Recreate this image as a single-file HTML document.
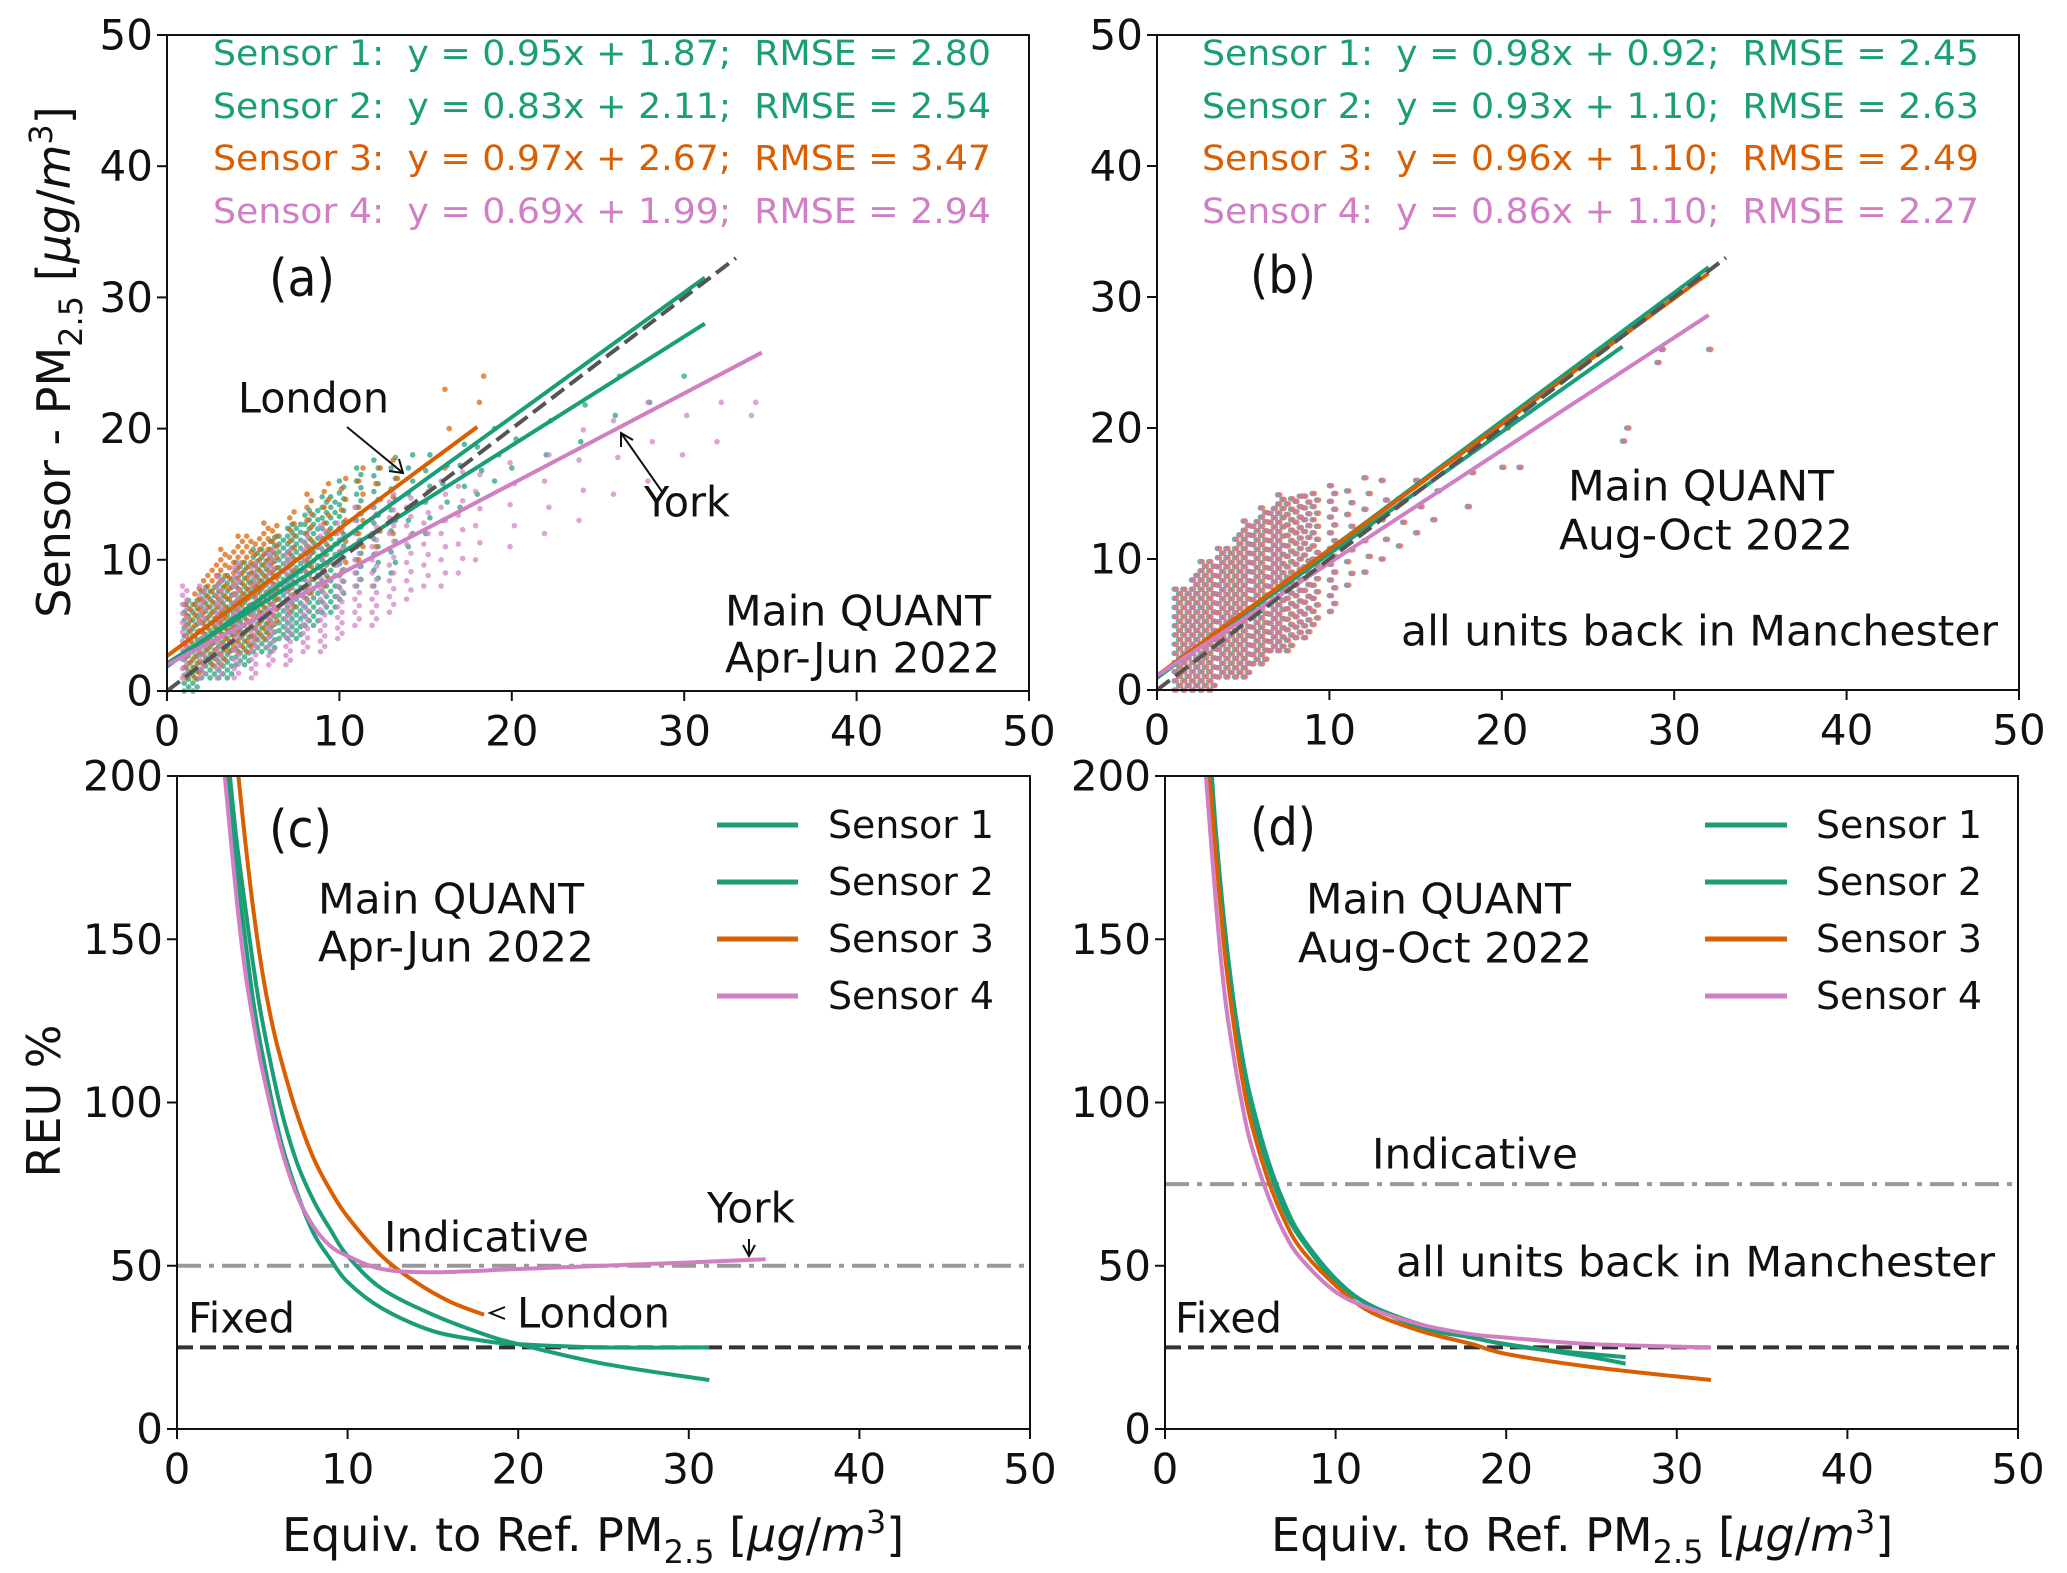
<!DOCTYPE html>
<html><head><meta charset="utf-8"><style>
html,body{margin:0;padding:0;background:#fff;}
svg{display:block;font-family:"DejaVu Sans","Liberation Sans",sans-serif;}
</style></head><body>
<svg id="fig" width="2067" height="1573" viewBox="0 0 2067 1573" xmlns="http://www.w3.org/2000/svg">
<rect width="2067" height="1573" fill="#fff"/>
<g id="marks"></g>
<g id="axes"></g>
<g font-size="35" dominant-baseline="central">
<text x="213" y="54" fill="#1b9e77" textLength="778" lengthAdjust="spacingAndGlyphs" xml:space="preserve">Sensor 1:  y = 0.95x + 1.87;  RMSE = 2.80</text>
<text x="213" y="107" fill="#1b9e77" textLength="778" lengthAdjust="spacingAndGlyphs" xml:space="preserve">Sensor 2:  y = 0.83x + 2.11;  RMSE = 2.54</text>
<text x="213" y="159" fill="#d95f02" textLength="778" lengthAdjust="spacingAndGlyphs" xml:space="preserve">Sensor 3:  y = 0.97x + 2.67;  RMSE = 3.47</text>
<text x="213" y="212" fill="#d07fc4" textLength="778" lengthAdjust="spacingAndGlyphs" xml:space="preserve">Sensor 4:  y = 0.69x + 1.99;  RMSE = 2.94</text>
<text x="1202" y="54" fill="#1b9e77" textLength="777" lengthAdjust="spacingAndGlyphs" xml:space="preserve">Sensor 1:  y = 0.98x + 0.92;  RMSE = 2.45</text>
<text x="1202" y="107" fill="#1b9e77" textLength="777" lengthAdjust="spacingAndGlyphs" xml:space="preserve">Sensor 2:  y = 0.93x + 1.10;  RMSE = 2.63</text>
<text x="1202" y="159" fill="#d95f02" textLength="777" lengthAdjust="spacingAndGlyphs" xml:space="preserve">Sensor 3:  y = 0.96x + 1.10;  RMSE = 2.49</text>
<text x="1202" y="212" fill="#d07fc4" textLength="777" lengthAdjust="spacingAndGlyphs" xml:space="preserve">Sensor 4:  y = 0.86x + 1.10;  RMSE = 2.27</text>
</g>
<g font-size="52" dominant-baseline="central" fill="#111">
<text x="269" y="279" textLength="66" lengthAdjust="spacingAndGlyphs">(a)</text>
<text x="1250" y="276" textLength="66" lengthAdjust="spacingAndGlyphs">(b)</text>
<text x="269" y="830" textLength="63" lengthAdjust="spacingAndGlyphs">(c)</text>
<text x="1250" y="828" textLength="66" lengthAdjust="spacingAndGlyphs">(d)</text>
</g>
<g font-size="42" dominant-baseline="central" fill="#111">
<text x="238" y="398" textLength="151" lengthAdjust="spacingAndGlyphs">London</text>
<text x="644" y="502" textLength="86" lengthAdjust="spacingAndGlyphs">York</text>
<text x="725" y="611" textLength="266" lengthAdjust="spacingAndGlyphs">Main QUANT</text>
<text x="725" y="658" textLength="275" lengthAdjust="spacingAndGlyphs">Apr-Jun 2022</text>
<text x="1568" y="486" textLength="266" lengthAdjust="spacingAndGlyphs">Main QUANT</text>
<text x="1559" y="535" textLength="294" lengthAdjust="spacingAndGlyphs">Aug-Oct 2022</text>
<text x="1401" y="631" textLength="597" lengthAdjust="spacingAndGlyphs">all units back in Manchester</text>
<text x="318" y="899" textLength="266" lengthAdjust="spacingAndGlyphs">Main QUANT</text>
<text x="318" y="947" textLength="276" lengthAdjust="spacingAndGlyphs">Apr-Jun 2022</text>
<text x="384" y="1237" textLength="205" lengthAdjust="spacingAndGlyphs">Indicative</text>
<text x="707" y="1208" textLength="88" lengthAdjust="spacingAndGlyphs">York</text>
<text x="517" y="1313" textLength="153" lengthAdjust="spacingAndGlyphs">London</text>
<text x="188" y="1318" textLength="107" lengthAdjust="spacingAndGlyphs">Fixed</text>
<text x="1306" y="899" textLength="265" lengthAdjust="spacingAndGlyphs">Main QUANT</text>
<text x="1298" y="948" textLength="294" lengthAdjust="spacingAndGlyphs">Aug-Oct 2022</text>
<text x="1372" y="1154" textLength="206" lengthAdjust="spacingAndGlyphs">Indicative</text>
<text x="1396" y="1262" textLength="599" lengthAdjust="spacingAndGlyphs">all units back in Manchester</text>
<text x="1175" y="1318" textLength="107" lengthAdjust="spacingAndGlyphs">Fixed</text>
</g>
<g stroke="#111" stroke-width="2" fill="none">
<line x1="347" y1="427" x2="403" y2="473"/>
<polyline points="389,471 403,473 399,459"/>
<line x1="663" y1="493" x2="621" y2="433"/>
<polyline points="621,447 621,433 633,440"/>
<line x1="749" y1="1239" x2="749" y2="1256"/>
<polyline points="743,1245 749,1256 755,1245"/>
<polyline points="505,1307 490,1313 505,1319"/>
</g>
<g stroke-width="5">
<line x1="717" y1="825" x2="798" y2="825" stroke="#1b9e77"/>
<line x1="717" y1="882" x2="798" y2="882" stroke="#1b9e77"/>
<line x1="717" y1="939" x2="798" y2="939" stroke="#d95f02"/>
<line x1="717" y1="996" x2="798" y2="996" stroke="#d07fc4"/>
<line x1="1705" y1="825" x2="1787" y2="825" stroke="#1b9e77"/>
<line x1="1705" y1="882" x2="1787" y2="882" stroke="#1b9e77"/>
<line x1="1705" y1="939" x2="1787" y2="939" stroke="#d95f02"/>
<line x1="1705" y1="996" x2="1787" y2="996" stroke="#d07fc4"/>
</g>
<g font-size="38" dominant-baseline="central" fill="#111">
<text x="828" y="825" textLength="166" lengthAdjust="spacingAndGlyphs">Sensor 1</text>
<text x="828" y="882" textLength="166" lengthAdjust="spacingAndGlyphs">Sensor 2</text>
<text x="828" y="939" textLength="166" lengthAdjust="spacingAndGlyphs">Sensor 3</text>
<text x="828" y="996" textLength="166" lengthAdjust="spacingAndGlyphs">Sensor 4</text>
<text x="1816" y="825" textLength="166" lengthAdjust="spacingAndGlyphs">Sensor 1</text>
<text x="1816" y="882" textLength="166" lengthAdjust="spacingAndGlyphs">Sensor 2</text>
<text x="1816" y="939" textLength="166" lengthAdjust="spacingAndGlyphs">Sensor 3</text>
<text x="1816" y="996" textLength="166" lengthAdjust="spacingAndGlyphs">Sensor 4</text>
</g>
<g font-size="46" fill="#111">
<text transform="translate(70,362) rotate(-90)" text-anchor="middle">Sensor - PM<tspan font-size="32" dy="12">2.5</tspan><tspan dy="-12"> [</tspan><tspan font-style="italic">μg</tspan><tspan>/</tspan><tspan font-style="italic">m</tspan><tspan font-size="32" dy="-18">3</tspan><tspan dy="18">]</tspan></text>
<text transform="translate(60,1101) rotate(-90)" text-anchor="middle">REU %</text>
<text x="282" y="1551">Equiv. to Ref. PM<tspan font-size="32" dy="12">2.5</tspan><tspan dy="-12"> [</tspan><tspan font-style="italic">μg</tspan><tspan>/</tspan><tspan font-style="italic">m</tspan><tspan font-size="32" dy="-18">3</tspan><tspan dy="18">]</tspan></text>
<text x="1271" y="1551">Equiv. to Ref. PM<tspan font-size="32" dy="12">2.5</tspan><tspan dy="-12"> [</tspan><tspan font-style="italic">μg</tspan><tspan>/</tspan><tspan font-style="italic">m</tspan><tspan font-size="32" dy="-18">3</tspan><tspan dy="18">]</tspan></text>
</g>
</svg>
<script>
// ---------- data ----------
const xTicks = [0,10,20,30,40,50];
const yTicksTop = [0,10,20,30,40,50];
const yTicksBottom = [0,50,100,150,200];
const sensors = ['s1','s2','s3','s4'];
const colors = ['#1b9e77','#1b9e77','#d95f02','#d07fc4'];
const aSlope = [0.95,0.83,0.97,0.69];
const aIntercept = [1.87,2.11,2.67,1.99];
const aXEnd = [31.2,31.2,18,34.5];
const bSlope = [0.98,0.93,0.96,0.86];
const bIntercept = [0.92,1.10,1.10,1.10];
const bXEnd = [32,27,32,32];
// scatter streaks (x, ymin, ymax, spacing)
const aGreenX = [1,1.5,2,2.5,3,3.5,4,4.5,5,5.5,6,6.5,7,7.5,8,8.5,9,9.5,10,11,12,13,14,15,16,17,18,19,20,22,24,26,28,30];
const aGreenMin = [0,0,1,1,1,1,2,2,3,3,3,4,4,4,5,5,6,6,7,8,8,9,11,12,13,14,15,16,17,18,19,21,22,24];
const aGreenMax = [7,7,8,8,9,9,10,10,11,11,12,12,13,13,14,14,15,15,16,17,18,18,18,19,18,19,20,21,21,22,22,24,24,26];
const aGreenGap = [0.3,0.3,0.3,0.3,0.3,0.3,0.3,0.3,0.3,0.3,0.3,0.3,0.3,0.3,0.35,0.35,0.4,0.4,0.45,0.5,0.6,0.8,1,1.2,1.4,1.6,1.8,2,2.2,2.6,2.8,3,3,3];
const aOrangeX = [1,1.5,2,2.5,3,3.5,4,4.5,5,5.5,6,7,8,9,10,11,12,13,16,18];
const aOrangeMin = [1,1,2,2,2,3,3,3,4,4,5,6,7,8,9,10,11,12,17,22];
const aOrangeMax = [7,8,9,10,11,11,12,12,12,13,13,14,15,16,17,17,18,18,23,24];
const aOrangeGap = [0.4,0.4,0.4,0.4,0.4,0.4,0.4,0.4,0.4,0.4,0.4,0.45,0.5,0.6,0.8,1,1.2,1.4,3,2];
const aPinkX = [1,2,3,4,5,6,7,8,9,10,11,12,13,14,15,16,17,18,20,22,24,26,28,30,32,34];
const aPinkMin = [1,1,1,1,1,2,2,3,3,4,5,5,6,7,8,8,9,10,11,12,13,15,16,18,19,21];
const aPinkMax = [8,8,9,10,10,11,11,12,13,13,14,14,15,15,16,16,17,17,18,19,20,21,22,23,23,22];
const aPinkGap = [0.35,0.35,0.35,0.35,0.35,0.35,0.35,0.35,0.4,0.4,0.5,0.5,0.6,0.7,0.8,1,1.1,1.3,1.6,2,2.3,2.8,3,3,3,1];
const bCloudX = [1,1.5,2,2.5,3,3.5,4,4.5,5,5.5,6,6.5,7,7.5,8,8.5,9,10,11,12,13,14,15,16,18,20,21,27,29,32];
const bCloudMin = [0,0,0,0,0,1,1,1,1,2,2,3,3,3,4,4,5,6,8,9,10,11,12,13,14,17,17,19,25,26];
const bCloudMax = [8,8,9,10,10,11,11,12,13,13,14,14,15,15,15,15,15,16,16,17,16,16,17,17,18,20,19,20,26,26];
const bCloudGap = [0.35,0.35,0.35,0.35,0.35,0.35,0.35,0.35,0.35,0.35,0.35,0.35,0.35,0.4,0.4,0.45,0.5,0.6,0.9,1.2,1.5,1.8,2,2.2,2.6,3,3,1,1,1];
// REU curves panel c
const cX1 = [3.1,3.5,4,4.5,5,6,7,8,9,10,12,15,18,20,25,31.2];
const cY1 = [200,180,160,141,125,100,82,70,61,53,43,35,29,26,20,15];
const cX2 = [3,3.5,4,4.5,5,6,7,8,9,10,12,15,18,20,25,31.2];
const cY2 = [200,172,150,130,115,90,73,60,52,45,37,30,27,26,25,25];
const cX3 = [3.6,4,4.5,5,5.5,6,7,8,9,10,12,14,16,18];
const cY3 = [200,180,158,140,126,115,97,83,73,65,53,45,39,35];
const cX4 = [2.8,3.5,4,4.5,5,6,7,8,9,10,12,15,20,25,30,34.5];
const cY4 = [200,162,140,124,110,88,72,62,56,53,49,48,49,50,51,52];
// REU curves panel d
const dX1 = [2.75,3,3.5,4,4.5,5,6,7,8,10,12,15,18,20,25,27];
const dY1 = [200,182,154,132,115,102,83,69,59,46,38,32,28,26,22,20];
const dX2 = [2.65,3,3.5,4,4.5,5,6,7,8,10,12,15,18,21,27];
const dY2 = [200,178,150,129,112,99,81,67,58,45,38,31,28,25,22];
const dX3 = [2.6,3,3.5,4,4.5,5,6,7,8,10,12,15,18,20,25,32];
const dY3 = [200,175,146,125,108,95,77,64,55,44,36,30,26,23,19,15];
const dX4 = [2.4,3,3.5,4,4.5,5,6,7,8,10,12,15,18,20,25,32];
const dY4 = [200,160,133,115,100,88,72,60,52,42,37,32,29,28,26,25];
const fixedLevel = 25;
const indicativeC = 50;
const indicativeD = 75;

const NS = 'http://www.w3.org/2000/svg';
const marks = document.getElementById('marks');
const axes = document.getElementById('axes');
function mk(tag, attrs, parent){
  const el = document.createElementNS(NS, tag);
  for (const k in attrs) el.setAttribute(k, attrs[k]);
  parent.appendChild(el);
  return el;
}
const P = {
  a:{l:167,r:1029,t:35,b:691,ymax:50,yt:yTicksTop},
  b:{l:1157,r:2019,t:35,b:690,ymax:50,yt:yTicksTop},
  c:{l:177,r:1030,t:776,b:1429,ymax:200,yt:yTicksBottom},
  d:{l:1165,r:2018,t:776,b:1429,ymax:200,yt:yTicksBottom}
};
function sx(p,v){return p.l + (p.r-p.l)*v/50;}
function sy(p,v){return p.b - (p.b-p.t)*v/p.ymax;}

for (const key in P){
  const p = P[key];
  const frame = mk('rect',{x:p.l,y:p.t,width:p.r-p.l,height:p.b-p.t,fill:'none',stroke:'#111','stroke-width':2},axes);
  
  
  xTicks.forEach(v=>{
    const x = sx(p,v);
    const tk = mk('line',{x1:x,x2:x,y1:p.b,y2:p.b+10,stroke:'#111','stroke-width':2},axes);
    
    
    const lb = mk('text',{x:x,y:p.b+40,'text-anchor':'middle','dominant-baseline':'central','font-size':42,fill:'#111'},axes);
    lb.textContent = v;
    
    
  });
  p.yt.forEach(v=>{
    const y = sy(p,v);
    const tk = mk('line',{x1:p.l-10,x2:p.l,y1:y,y2:y,stroke:'#111','stroke-width':2},axes);
    
    
    const lb = mk('text',{x:p.l-14,y:y,'text-anchor':'end','dominant-baseline':'central','font-size':42,fill:'#111'},axes);
    lb.textContent = v;
    
    
  });
}

function streaks(p, xs, mins, maxs, gaps, color, name, dx){
  const g = mk('g',{fill:color,opacity:0.7},marks);
  
  
  xs.forEach((x,i)=>{
    let k = 0;
    for (let y=mins[i]; y<=maxs[i]; y+=gaps[i]){
      const c = mk('circle',{cx:sx(p,x+dx+(k%2)*0.25),cy:sy(p,y),r:2.8},g);
      
      
      k++;
    }
  });
}
streaks(P.a,aGreenX,aGreenMin,aGreenMax,aGreenGap,'#1b9e77','scatter-a-green',0);
streaks(P.a,aOrangeX,aOrangeMin,aOrangeMax,aOrangeGap,'#d95f02','scatter-a-s3',0.12);
streaks(P.a,aPinkX,aPinkMin,aPinkMax,aPinkGap,'#d07fc4','scatter-a-s4',-0.1);
streaks(P.b,bCloudX,bCloudMin,bCloudMax,bCloudGap,'#1b9e77','scatter-b-green',0);
streaks(P.b,bCloudX,bCloudMin,bCloudMax,bCloudGap,'#d95f02','scatter-b-s3',0.12);
streaks(P.b,bCloudX,bCloudMin,bCloudMax,bCloudGap,'#d07fc4','scatter-b-s4',0.06);

['a','b'].forEach(key=>{
  const p = P[key];
  const slopes = key==='a'?aSlope:bSlope, ints = key==='a'?aIntercept:bIntercept, ends = key==='a'?aXEnd:bXEnd;
  slopes.forEach((m,i)=>{
    const ln = mk('line',{x1:sx(p,0),y1:sy(p,ints[i]),x2:sx(p,ends[i]),y2:sy(p,m*ends[i]+ints[i]),stroke:colors[i],'stroke-width':4},marks);
    
    
  });
  const one = mk('line',{x1:sx(p,0),y1:sy(p,0),x2:sx(p,33),y2:sy(p,33),stroke:'#555','stroke-width':4,'stroke-dasharray':'16,7'},marks);
  
  
});

function hline(p, v, dash, color, name){
  const ln = mk('line',{x1:p.l,x2:p.r,y1:sy(p,v),y2:sy(p,v),stroke:color,'stroke-width':4,'stroke-dasharray':dash},marks);
  
  
}
hline(P.c, indicativeC, '24,8,5,8', '#999', 'indicative-line-c');
hline(P.c, fixedLevel, '16,7', '#333', 'fixed-line-c');
hline(P.d, indicativeD, '24,8,5,8', '#999', 'indicative-line-d');
hline(P.d, fixedLevel, '16,7', '#333', 'fixed-line-d');
function curve(p, xs, ys, color, name){
  const P2 = xs.map((x,i)=>[sx(p,x),sy(p,ys[i])]);
  let d = 'M'+P2[0][0]+','+P2[0][1];
  for (let i=0;i<P2.length-1;i++){
    const p0=P2[Math.max(0,i-1)],p1=P2[i],p2=P2[i+1],p3=P2[Math.min(P2.length-1,i+2)];
    d += ' C'+(p1[0]+(p2[0]-p0[0])/6)+','+(p1[1]+(p2[1]-p0[1])/6)+' '+(p2[0]-(p3[0]-p1[0])/6)+','+(p2[1]-(p3[1]-p1[1])/6)+' '+p2[0]+','+p2[1];
  }
  const path = mk('path',{d:d,fill:'none',stroke:color,'stroke-width':4},marks);
  
  
}
curve(P.c,cX1,cY1,colors[0],'reu-curve-c-s1');
curve(P.c,cX2,cY2,colors[1],'reu-curve-c-s2');
curve(P.c,cX3,cY3,colors[2],'reu-curve-c-s3');
curve(P.c,cX4,cY4,colors[3],'reu-curve-c-s4');
curve(P.d,dX1,dY1,colors[0],'reu-curve-d-s1');
curve(P.d,dX2,dY2,colors[1],'reu-curve-d-s2');
curve(P.d,dX3,dY3,colors[2],'reu-curve-d-s3');
curve(P.d,dX4,dY4,colors[3],'reu-curve-d-s4');
</script>
</body></html>
